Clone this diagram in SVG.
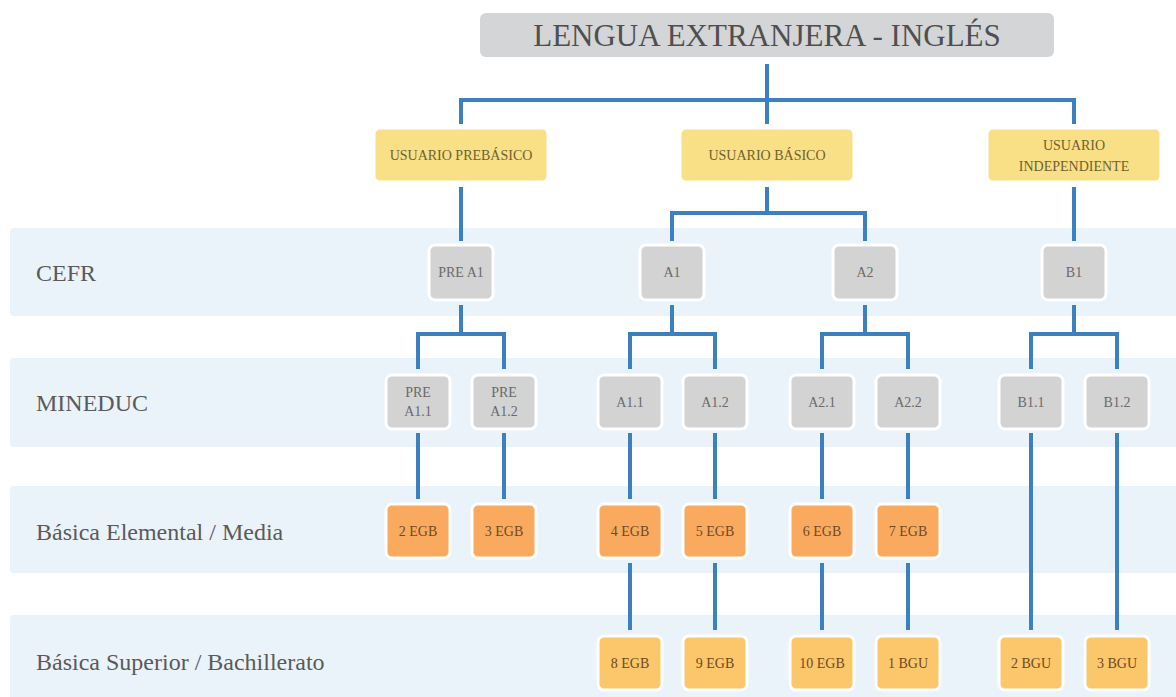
<svg xmlns="http://www.w3.org/2000/svg" width="1176" height="697" viewBox="0 0 1176 697">
<style>
text{font-family:"Liberation Serif","Times New Roman",serif;text-anchor:middle}
.band{fill:#eaf3fa}
.lbl{font-size:24px;fill:#5a5a5a;text-anchor:start}
.title{fill:#d4d5d7}
.yel{fill:#f9df85;stroke:#fff;stroke-width:3}
.gry{fill:#d3d3d4;stroke:#fff;stroke-width:3}
.org{fill:#f9aa5f;stroke:#fff;stroke-width:3}
.lor{fill:#fcc66a;stroke:#fff;stroke-width:3}
.ty{font-size:14px;fill:#6e6230}
.tg{font-size:14px;fill:#6a6a6a}
.to{font-size:14px;fill:#6e4a25}
.conn path{fill:none;stroke:#3b80c1;stroke-width:4}
</style>
<g id="bands">
<rect class="band" x="10" y="228" width="1170" height="88" rx="4"/>
<rect class="band" x="10" y="358" width="1170" height="89" rx="4"/>
<rect class="band" x="10" y="486" width="1170" height="87" rx="4"/>
<rect class="band" x="10" y="615" width="1170" height="90" rx="4"/>
<text class="lbl" x="36" y="281">CEFR</text>
<text class="lbl" x="36" y="411">MINEDUC</text>
<text class="lbl" x="36" y="540">Básica Elemental / Media</text>
<text class="lbl" x="36" y="670">Básica Superior / Bachillerato</text>
</g>
<g class="conn" id="connectors">
<path d="M767,64V100M461,124V100H1074V124M767,100V124"/>
<path d="M461,187V241M767,187V213M672,241V213H865V241M1074,187V241"/>
<path d="M461,305V334M418,369V334H504V369"/>
<path d="M672,305V334M630,369V334H715V369"/>
<path d="M865,305V334M822,369V334H908V369"/>
<path d="M1074,305V334M1031,369V334H1117V369"/>
<path d="M418,433V499M504,433V499M630,433V499M715,433V499M822,433V499M908,433V499"/>
<path d="M630,563V630M715,563V630M822,563V630M908,563V630"/>
<path d="M1031,433V630M1117,433V630"/>
</g>
<g id="n-title"><rect class="title" x="480" y="13" width="574" height="44" rx="6"/><text x="767" y="46" style="font-size:31px;fill:#4f4f4f">LENGUA EXTRANJERA - INGLÉS</text></g>
<g id="n-prebasico"><rect class="yel" x="374" y="128" width="174" height="54" rx="6"/><text class="ty" x="461" y="160">USUARIO  PREBÁSICO</text></g>
<g id="n-basico"><rect class="yel" x="680" y="128" width="174" height="54" rx="6"/><text class="ty" x="767" y="160">USUARIO BÁSICO</text></g>
<g id="n-indep"><rect class="yel" x="987" y="128" width="174" height="54" rx="6"/><text class="ty" x="1074" y="150">USUARIO</text><text class="ty" x="1074" y="171">INDEPENDIENTE</text></g>
<g id="n-prea1"><rect class="gry" x="429" y="245" width="64" height="55" rx="6"/><text class="tg" x="461" y="277">PRE A1</text></g>
<g id="n-a1"><rect class="gry" x="640" y="245" width="64" height="55" rx="6"/><text class="tg" x="672" y="277">A1</text></g>
<g id="n-a2"><rect class="gry" x="833" y="245" width="64" height="55" rx="6"/><text class="tg" x="865" y="277">A2</text></g>
<g id="n-b1"><rect class="gry" x="1042" y="245" width="64" height="55" rx="6"/><text class="tg" x="1074" y="277">B1</text></g>
<g id="n-prea11"><rect class="gry" x="386" y="375" width="64" height="54" rx="6"/><text class="tg" x="418" y="397">PRE</text><text class="tg" x="418" y="416">A1.1</text></g>
<g id="n-prea12"><rect class="gry" x="472" y="375" width="64" height="54" rx="6"/><text class="tg" x="504" y="397">PRE</text><text class="tg" x="504" y="416">A1.2</text></g>
<g id="n-a11"><rect class="gry" x="598" y="375" width="64" height="54" rx="6"/><text class="tg" x="630" y="407">A1.1</text></g>
<g id="n-a12"><rect class="gry" x="683" y="375" width="64" height="54" rx="6"/><text class="tg" x="715" y="407">A1.2</text></g>
<g id="n-a21"><rect class="gry" x="790" y="375" width="64" height="54" rx="6"/><text class="tg" x="822" y="407">A2.1</text></g>
<g id="n-a22"><rect class="gry" x="876" y="375" width="64" height="54" rx="6"/><text class="tg" x="908" y="407">A2.2</text></g>
<g id="n-b11"><rect class="gry" x="999" y="375" width="64" height="54" rx="6"/><text class="tg" x="1031" y="407">B1.1</text></g>
<g id="n-b12"><rect class="gry" x="1085" y="375" width="64" height="54" rx="6"/><text class="tg" x="1117" y="407">B1.2</text></g>
<g id="n-2egb"><rect class="org" x="386" y="504" width="64" height="54" rx="6"/><text class="to" x="418" y="536">2 EGB</text></g>
<g id="n-3egb"><rect class="org" x="472" y="504" width="64" height="54" rx="6"/><text class="to" x="504" y="536">3 EGB</text></g>
<g id="n-4egb"><rect class="org" x="598" y="504" width="64" height="54" rx="6"/><text class="to" x="630" y="536">4 EGB</text></g>
<g id="n-5egb"><rect class="org" x="683" y="504" width="64" height="54" rx="6"/><text class="to" x="715" y="536">5 EGB</text></g>
<g id="n-6egb"><rect class="org" x="790" y="504" width="64" height="54" rx="6"/><text class="to" x="822" y="536">6 EGB</text></g>
<g id="n-7egb"><rect class="org" x="876" y="504" width="64" height="54" rx="6"/><text class="to" x="908" y="536">7 EGB</text></g>
<g id="n-8egb"><rect class="lor" x="598" y="636" width="64" height="54" rx="6"/><text class="to" x="630" y="668">8 EGB</text></g>
<g id="n-9egb"><rect class="lor" x="683" y="636" width="64" height="54" rx="6"/><text class="to" x="715" y="668">9 EGB</text></g>
<g id="n-10egb"><rect class="lor" x="790" y="636" width="64" height="54" rx="6"/><text class="to" x="822" y="668">10 EGB</text></g>
<g id="n-1bgu"><rect class="lor" x="876" y="636" width="64" height="54" rx="6"/><text class="to" x="908" y="668">1 BGU</text></g>
<g id="n-2bgu"><rect class="lor" x="999" y="636" width="64" height="54" rx="6"/><text class="to" x="1031" y="668">2 BGU</text></g>
<g id="n-3bgu"><rect class="lor" x="1085" y="636" width="64" height="54" rx="6"/><text class="to" x="1117" y="668">3 BGU</text></g>
</svg>
